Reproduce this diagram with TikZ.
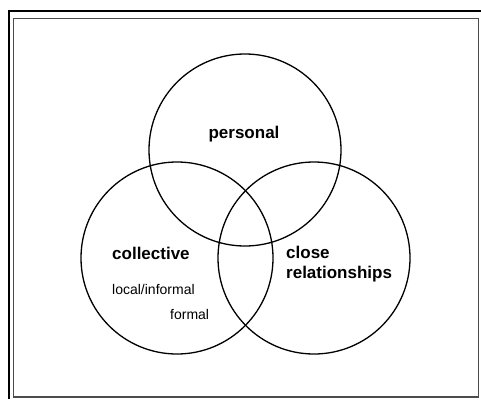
\documentclass[tikz,border=0pt]{standalone}
\usepackage{fontspec}
\setmainfont{Liberation Sans}
\usepackage{tikz}

\tikzset{
  ring/.style={line width=1.3pt},
  biglabel/.style={font=\bfseries\fontsize{17}{20}\selectfont, inner sep=0pt},
  smalllabel/.style={font=\fontsize{14}{16}\selectfont, inner sep=0pt}
}

\begin{document}
\begin{tikzpicture}[x=1pt,y=-1pt]
        \useasboundingbox (0,0) rectangle (481,399);
        %
        \draw [line width=2pt] (9,399) -- (9,11) -- (481,11);
        \draw [line width=1.2pt, black!70] (13.5,397) rectangle (478.5,18.5);
        %
        \draw [ring] (245,150) circle (96);
        \draw [ring] (177,258) circle (96);
        \draw [ring] (314,258) circle (96);
        %
        \node [biglabel, anchor=base] (personal) at (244,138) {personal};
        \node [biglabel, anchor=base west] (collective) at (112,259) {collective};
        \node [smalllabel, anchor=base west] (local) at (112,294) {local/informal};
        \node [smalllabel, anchor=base west] (formal) at (170,319) {formal};
        \node [biglabel, anchor=north west, align=left] (close) at (286,246) {close\\relationships};
      \end{tikzpicture}
\end{document}
